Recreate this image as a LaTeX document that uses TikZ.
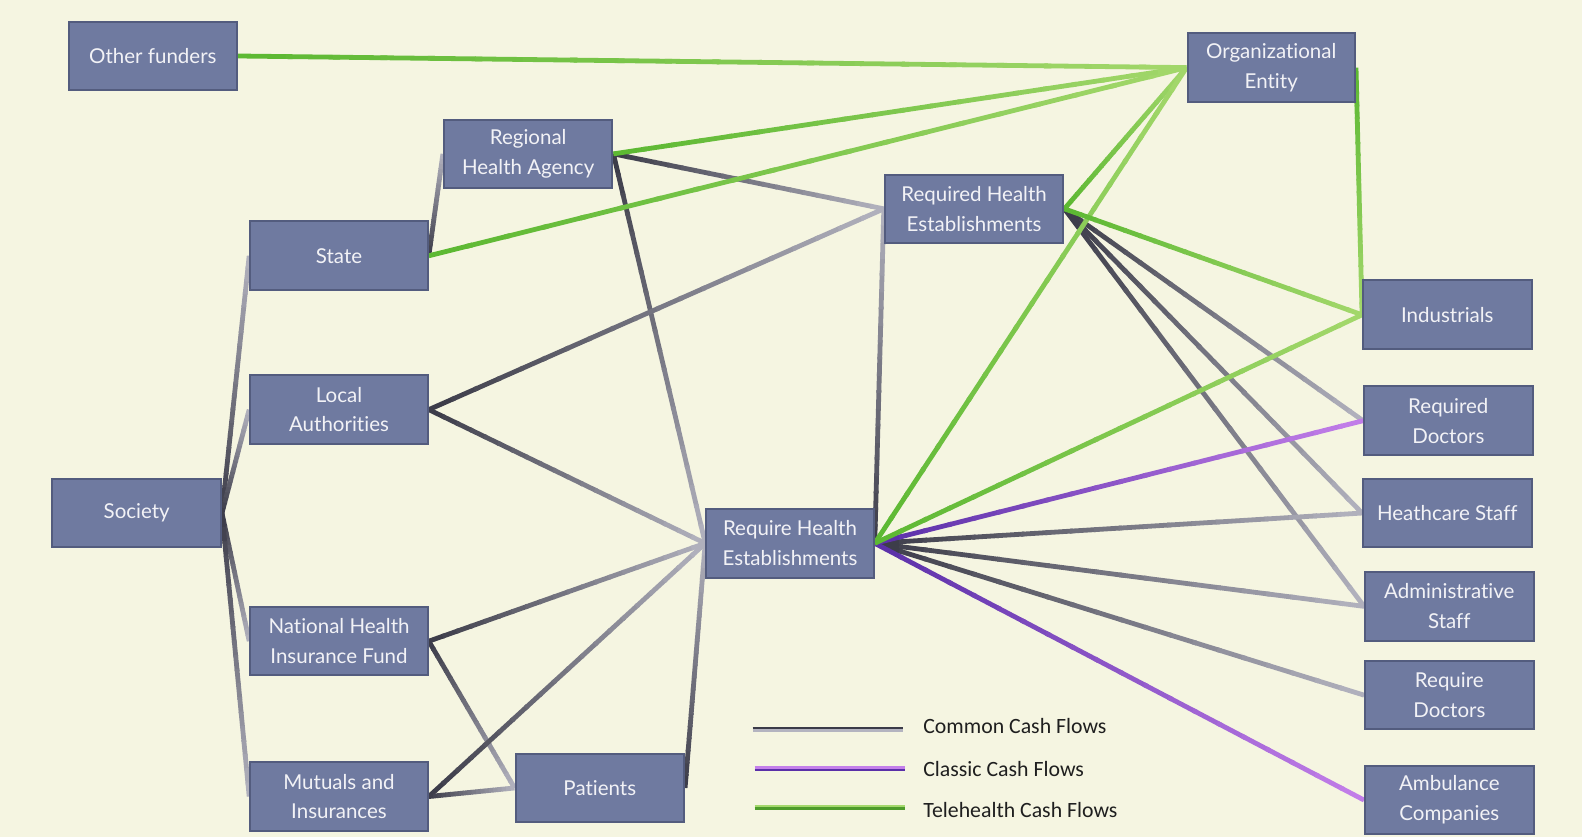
\documentclass[tikz,border=0pt]{standalone}
\usepackage{fontspec}
\setmainfont{Lato}[RawFeature={-liga}]
\newfontfamily\legfont{Carlito}
\usetikzlibrary{calc,backgrounds}
\definecolor{bg}{HTML}{F5F5E1}
\definecolor{boxfill}{HTML}{6F7AA0}
\definecolor{boxdraw}{HTML}{535C7E}
\definecolor{boxtext}{HTML}{F2F2F6}
\definecolor{gdark}{HTML}{3B3B48}
\definecolor{glight}{HTML}{B4B4C0}
\definecolor{grdark}{HTML}{5CB832}
\definecolor{grlight}{HTML}{A4D86C}
\definecolor{pdark}{HTML}{5A2FA8}
\definecolor{plight}{HTML}{C47FEA}
\newcommand\flow[4]{%
  \foreach \i in {1,...,20}{%
    \pgfmathsetmacro\ta{(\i-1)/20}%
    \pgfmathsetmacro\tb{min(1,(\i+0.15)/20)}%
    \pgfmathtruncatemacro\pp{100*(\i-0.5)/20}%
    \draw[line width=4.8pt, color=#4!\pp!#3] ($(#1)!\ta!(#2)$) -- ($(#1)!\tb!(#2)$);
  }}
\newcommand\common[2]{\flow{#1}{#2}{gdark}{glight}}
\newcommand\classic[2]{\flow{#1}{#2}{pdark}{plight}}
\newcommand\tele[2]{\flow{#1}{#2}{grdark}{grlight}}
\tikzset{
  box/.style={draw=boxdraw, fill=boxfill, line width=2pt, text=boxtext, align=center,
    font=\fontsize{20.5}{29.8}\selectfont, inner sep=0pt, minimum height=68.6pt, minimum width=168.5pt},
  wide/.style={minimum width=177.6pt},
  legtext/.style={anchor=west, inner sep=0pt, font=\legfont\fontsize{21.8}{26}\selectfont, text=black!88}
}
\begin{document}
\begin{tikzpicture}[x=1.00893pt, y=-1.00893pt]
\useasboundingbox (0pt,0pt) rectangle (1582pt,-837pt);
\node[box] (other) at (151.5,55.5) {Other funders};
\node[box, minimum width=167.5pt] (org) at (1260,67) {Organizational\\Entity};
\node[box] (rha) at (523.5,152.5) {Regional\\Health Agency};
\node[box, minimum width=178.6pt] (rqhe) at (965.5,207) {Required Health\\Establishments};
\node[box, wide] (state) at (336,253.5) {State};
\node[box] (ind) at (1434.5,312) {Industrials};
\node[box, wide] (local) at (336,406) {Local\\Authorities};
\node[box] (rdoc) at (1435.5,417) {Required\\Doctors};
\node[box] (society) at (135.5,508.5) {Society};
\node[box, minimum width=167.5pt] (rhe) at (783,538.5) {Require Health\\Establishments};
\node[box] (hcs) at (1434.5,508.5) {Heathcare Staff};
\node[box] (adm) at (1436.5,601) {Administrative\\Staff};
\node[box, wide] (nhif) at (336,635.5) {National Health\\Insurance Fund};
\node[box] (reqdoc) at (1436.5,689) {Require\\Doctors};
\node[box] (patients) at (594.5,781) {Patients};
\node[box, wide] (mutuals) at (336,789.5) {Mutuals and\\Insurances};
\node[box] (amb) at (1436.5,793) {Ambulance\\Companies};
\begin{scope}[on background layer]
\fill[bg] (0pt,0pt) rectangle (1582pt,-837pt);
\common{society.east}{state.west}
\common{society.east}{local.west}
\common{society.east}{nhif.west}
\common{society.east}{mutuals.west}
\common{state.east}{rha.west}
\common{rha.east}{rqhe.west}
\common{rha.east}{rhe.west}
\common{local.east}{rqhe.west}
\common{local.east}{rhe.west}
\common{nhif.east}{rhe.west}
\common{nhif.east}{patients.west}
\common{mutuals.east}{rhe.west}
\common{mutuals.east}{patients.west}
\common{patients.east}{rhe.west}
\common{rhe.east}{rqhe.west}
\common{rqhe.east}{rdoc.west}
\common{rqhe.east}{hcs.west}
\common{rqhe.east}{adm.west}
\common{rhe.east}{hcs.west}
\common{rhe.east}{adm.west}
\common{rhe.east}{reqdoc.west}
\classic{rhe.east}{rdoc.west}
\classic{rhe.east}{amb.west}
\tele{other.east}{org.west}
\tele{state.east}{org.west}
\tele{rha.east}{org.west}
\tele{rqhe.east}{org.west}
\tele{rhe.east}{org.west}
\tele{org.east}{ind.west}
\tele{rqhe.east}{ind.west}
\tele{rhe.east}{ind.west}
\end{scope}
% legend
\coordinate (la1) at (746,723);
\coordinate (la2) at (895,723);
\draw[line width=2.6pt, gdark] ([yshift=1.3pt]la1) -- ([yshift=1.3pt]la2);
\draw[line width=2.6pt, glight] ([yshift=-1.3pt]la1) -- ([yshift=-1.3pt]la2);
\coordinate (lb1) at (748,762);
\coordinate (lb2) at (897,762);
\draw[line width=2.6pt, plight] ([yshift=1.3pt]lb1) -- ([yshift=1.3pt]lb2);
\draw[line width=2.6pt, pdark] ([yshift=-1.3pt]lb1) -- ([yshift=-1.3pt]lb2);
\coordinate (lc1) at (748,800);
\coordinate (lc2) at (897,800);
\draw[line width=2.6pt, grlight] ([yshift=1.3pt]lc1) -- ([yshift=1.3pt]lc2);
\draw[line width=2.6pt, grdark!85!black] ([yshift=-1.3pt]lc1) -- ([yshift=-1.3pt]lc2);
\node[legtext] (l1) at (915,720) {Common Cash Flows};
\node[legtext] (l2) at (915,762) {Classic Cash Flows};
\node[legtext] (l3) at (915,803) {Telehealth Cash Flows};
\end{tikzpicture}
\end{document}
